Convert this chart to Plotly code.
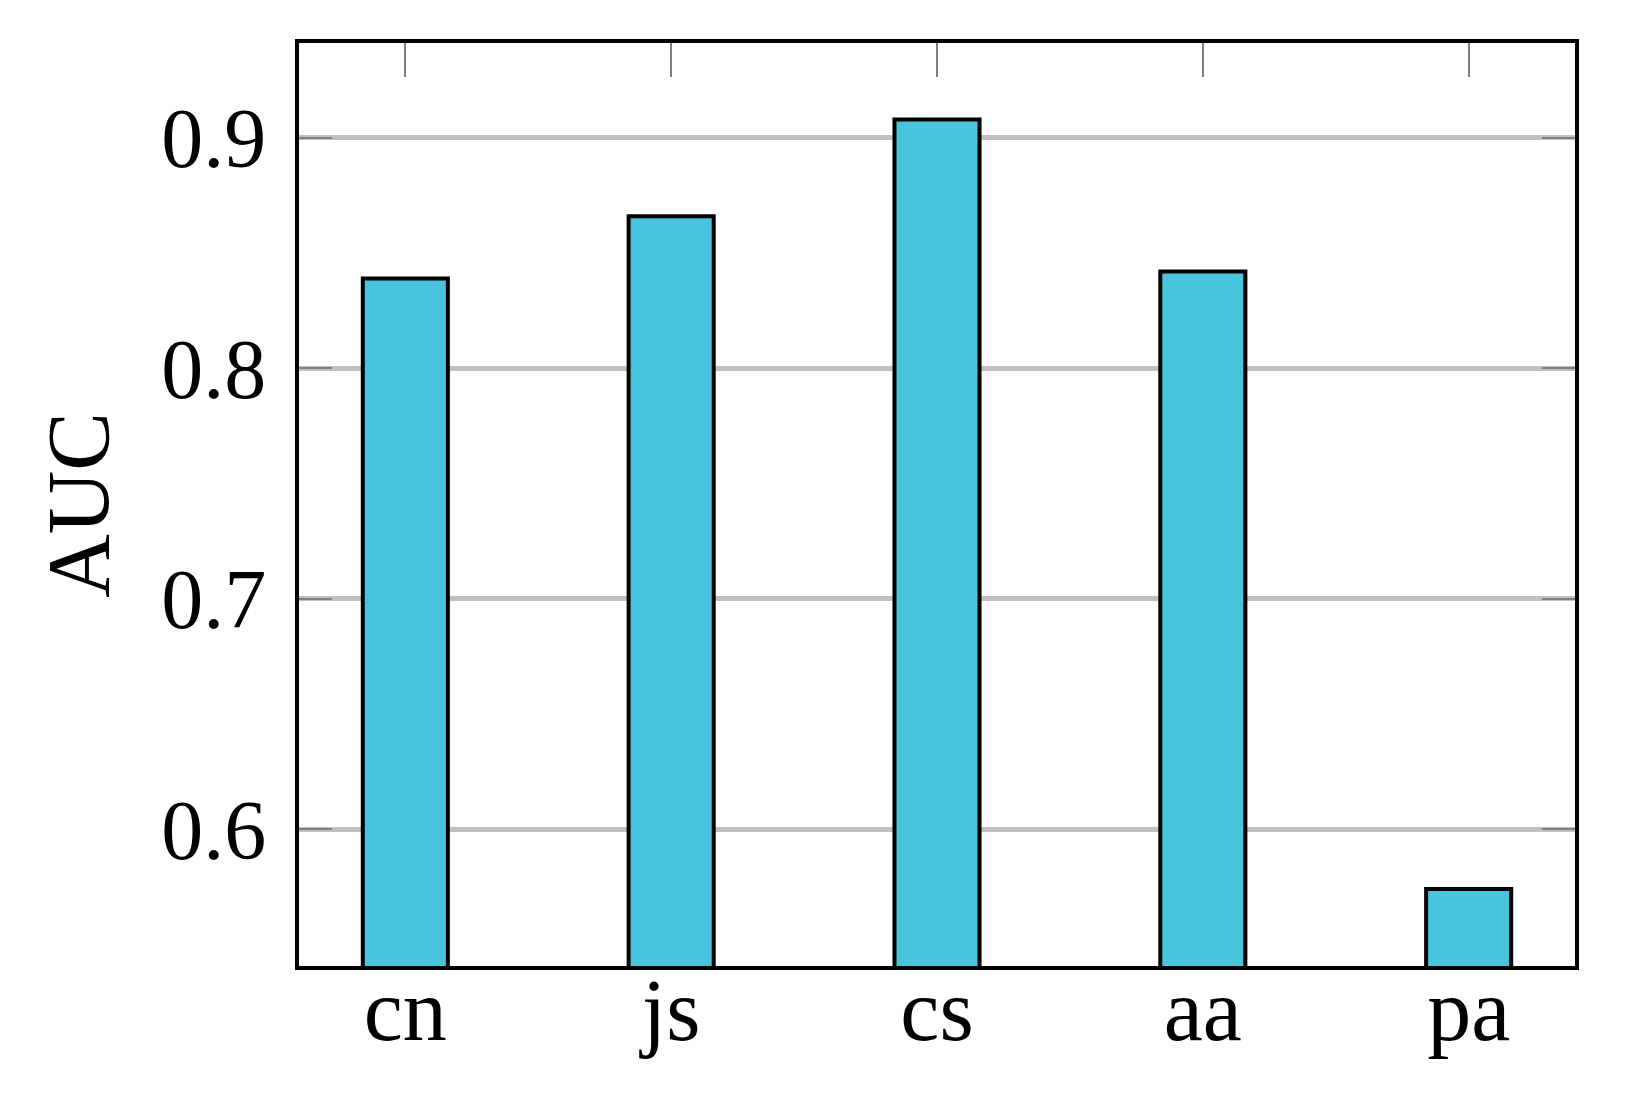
import plotly.graph_objects as go

categories = ["cn", "js", "cs", "aa", "pa"]
auc_values = [0.839, 0.866, 0.908, 0.842, 0.574]
y_tick_vals = [0.6, 0.7, 0.8, 0.9]
y_tick_text = ["0.6", "0.7", "0.8", "0.9"]
y_title = "AUC"

FONT = "Liberation Serif, Times New Roman, serif"

fig = go.Figure()
fig.add_trace(go.Bar(
    x=categories,
    y=auc_values,
    width=0.32,
    marker=dict(color="#48C5DC", line=dict(color="black", width=4)),
    showlegend=False,
))

fig.update_layout(
    width=1626, height=1095,
    margin=dict(l=291, r=59, t=35, b=137),
    paper_bgcolor="white", plot_bgcolor="white",
    font=dict(family=FONT, size=84, color="black"),
)
fig.update_xaxes(
    type="category",
    range=[-0.4, 4.4],
    showline=True, linecolor="black", linewidth=4, mirror="ticks",
    ticks="inside", ticklen=34, tickwidth=2.2, tickcolor="#808080",
    showgrid=False,
    tickfont=dict(family=FONT, size=88, color="black"),
    ticklabelstandoff=-36,
    layer="below traces",
)
fig.update_yaxes(
    range=[0.5406, 0.9412],
    tickvals=y_tick_vals, ticktext=y_tick_text,
    showline=True, linecolor="black", linewidth=4, mirror="ticks",
    ticks="inside", ticklen=33, tickwidth=2.2, tickcolor="#808080",
    showgrid=True, gridcolor="#C0C0C0", gridwidth=4.5,
    zeroline=False,
    tickfont=dict(family=FONT, size=84, color="black"),
    ticklabelstandoff=12,
    layer="below traces",
)
fig.add_annotation(
    text=y_title, xref="paper", yref="paper", x=-0.173, y=0.5,
    xanchor="center", yanchor="middle", textangle=-90, showarrow=False,
    font=dict(family=FONT, size=88, color="black"),
)

fig.write_html("out.html")
